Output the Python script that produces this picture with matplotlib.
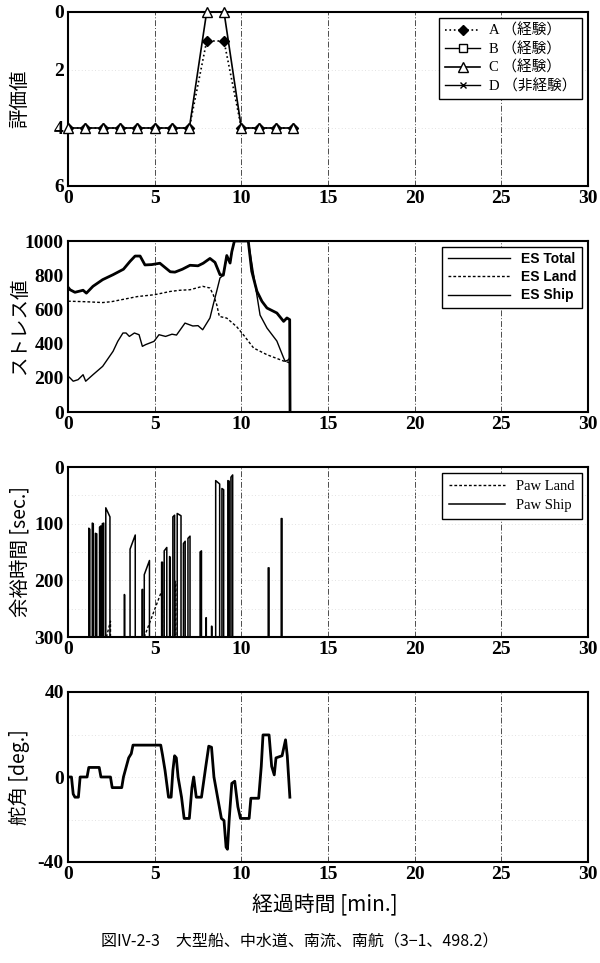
import matplotlib
matplotlib.use("Agg")
import matplotlib.pyplot as plt
import numpy as np

plt.rcParams['axes.unicode_minus'] = False

# ---------------- data ----------------
x_ticks = [0, 5, 10, 15, 20, 25, 30]

# Panel 1: evaluation values (inverted axis)
eval_t = [0, 1, 2, 3, 4, 5, 6, 7, 8, 9, 10, 11, 12, 13]
eval_A = [4, 4, 4, 4, 4, 4, 4, 4, 1, 1, 4, 4, 4, 4]
eval_B = []
eval_C = [4, 4, 4, 4, 4, 4, 4, 4, 0, 0, 4, 4, 4, 4]
eval_D = []
eval_labels = ["A （経験）", "B （経験）", "C （経験）", "D （非経験）"]

# Panel 2: stress values
total_t = [0, 0.12, 0.4, 0.87, 1.06, 1.44, 2.0, 2.6, 3.2, 3.58, 3.87, 4.16, 4.44, 4.83,
           5.3, 5.9, 6.17, 6.6, 7.04, 7.5, 7.8, 8.19, 8.48, 8.77, 8.96, 9.16, 9.35, 9.45,
           9.6, 10.4, 10.6, 10.9, 11.19, 11.48, 12.05, 12.44, 12.63, 12.79, 12.81]
total_v = [730, 715, 700, 712, 695, 735, 774, 803, 835, 881, 912, 912, 860, 862,
           870, 820, 818, 835, 858, 855, 870, 898, 875, 803, 800, 915, 871, 937,
           1000, 1000, 823, 706, 647, 608, 579, 530, 550, 540, 0]
land_t = [0, 1, 2, 2.5, 3, 4, 5, 5.9, 6.46, 7.04, 7.77, 8.19, 8.38, 8.58, 8.73, 9.16,
          9.74, 10.13, 10.71, 11.48, 12.44, 12.73, 12.8]
land_v = [648, 645, 640, 645, 655, 675, 686, 705, 712, 715, 735, 725, 686, 628, 559, 549,
          498, 450, 374, 335, 298, 290, 285]
ship_t = [0, 0.12, 0.3, 0.58, 0.87, 1.02, 1.44, 2.0, 2.6, 2.87, 3.17, 3.35, 3.54, 3.83,
          4.1, 4.29, 4.48, 4.96, 5.25, 5.63, 6.0, 6.26, 6.75, 7.2, 7.5, 7.77, 8.19, 8.38,
          8.58, 8.77, 8.96, 9.16, 9.35, 9.45, 9.6, 10.4, 10.8, 11.08, 11.48, 12.05, 12.44,
          12.53, 12.73, 12.8, 12.81]
ship_v = [210, 199, 180, 189, 218, 180, 218, 267, 355, 413, 462, 462, 442, 462,
          452, 384, 394, 413, 452, 442, 455, 450, 520, 503, 505, 481, 550, 628,
          707, 784, 800, 915, 871, 937, 1000, 1000, 745, 567, 491, 415, 316,
          296, 306, 320, 0]
es_labels = ["ES Total", "ES Land", "ES Ship"]

# Panel 3: margin time spikes (start, end, value at start, value at end)
pship_s = [1.20, 1.40, 1.58, 1.82, 1.98, 2.18, 3.25, 3.58, 4.28, 4.40, 5.40, 5.55, 5.86,
           6.05, 6.30, 6.66, 6.92, 7.62, 7.96, 8.28, 8.52, 8.88, 9.22, 9.40, 11.55, 12.30]
pship_e = [1.26, 1.46, 1.66, 1.90, 2.06, 2.42, 3.27, 3.88, 4.30, 4.70, 5.45, 5.70, 5.90,
           6.15, 6.52, 6.76, 7.04, 7.70, 7.98, 8.30, 8.75, 8.98, 9.30, 9.50, 11.60, 12.35]
pship_v1 = [108, 99, 117, 106, 100, 72, 225, 145, 216, 190, 168, 148, 158,
            88, 82, 135, 126, 150, 266, 281, 24, 38, 24, 18, 178, 91]
pship_v2 = [110, 100, 118, 104, 99, 88, 226, 120, 216, 165, 168, 142, 160,
            85, 86, 131, 122, 148, 266, 281, 30, 40, 25, 14, 178, 91]
pland_s = [2.22, 4.40, 6.18]
pland_e = [2.45, 5.45, 6.22]
pland_v1 = [300, 300, 202]
pland_v2 = [272, 215, 202]
paw_labels = ["Paw Land", "Paw Ship"]

# Panel 4: rudder angle
rud_t = [0.0, 0.2, 0.3, 0.4, 0.6, 0.7, 1.1, 1.2, 1.8, 1.9, 2.45, 2.55, 3.1, 3.2, 3.35, 3.5,
         3.65, 3.75, 5.35, 5.45, 5.6, 5.8, 5.95, 6.05, 6.15, 6.25, 6.35, 6.55, 6.7, 7.0,
         7.15, 7.25, 7.4, 7.7, 7.95, 8.12, 8.28, 8.42, 8.65, 8.85, 9.0, 9.12, 9.2, 9.3,
         9.45, 9.62, 9.8, 9.95, 10.45, 10.55, 11.0, 11.15, 11.25, 11.6, 11.75, 11.9,
         12.0, 12.35, 12.55, 12.65, 12.8]
rud_v = [0, 0, -8, -9.5, -9.5, 0, 0, 4.5, 4.5, 0, 0, -5, -5, 0, 4.5, 9,
         11, 15, 15, 10.5, 3, -9.5, -9.5, 3, 10, 9, 0, -9.5, -19.5, -19.5,
         -5, 0, -9.5, -9.5, 5, 14.5, 14, 0, -10.5, -19.5, -20.5, -33, -34, -20,
         -3, -2, -14, -19.5, -19.5, -10, -10, 5, 19.8, 19.8, 5, 1,
         9, 10, 17.5, 10, -9.5]

# ---------------- style ----------------
CJK = ['Noto Sans CJK JP', 'DejaVu Sans']
SERIF = ['Liberation Serif', 'DejaVu Serif']
SERIF_CJK = ['Liberation Serif', 'Noto Sans CJK JP', 'DejaVu Sans']

fig = plt.figure(figsize=(6, 9.63), dpi=100)
W, H = 600.0, 963.0
L, R = 68, 588


def make_ax(top, bottom):
    return fig.add_axes([L / W, 1 - bottom / H, (R - L) / W, (bottom - top) / H])


def fmt_ticks(ax):
    for lab in ax.get_xticklabels() + ax.get_yticklabels():
        lab.set_family(SERIF)
        lab.set_fontsize(14)
        lab.set_fontweight('bold')


def style(ax, ylim, yticks, ylabel, hgrid):
    ax.set_xlim(0, 30)
    ax.set_ylim(*ylim)
    ax.set_xticks(x_ticks)
    ax.set_yticks(yticks)
    ax.tick_params(length=0, pad=3)
    fmt_ticks(ax)
    for s in ax.spines.values():
        s.set_linewidth(1.5)
        s.set_color('black')
    for xv in x_ticks[1:-1]:
        ax.axvline(xv, color='0.3', lw=0.7, ls=(0, (6, 2, 1, 2)), zorder=0)
    for yv in hgrid:
        ax.axhline(yv, color='0.85', lw=0.6, ls=(0, (1, 3)), zorder=0)
    ax.set_ylabel(ylabel, family=CJK, fontsize=14)
    ax.yaxis.set_label_coords(-0.073, 0.5)


def spikes(s, e, v1, v2, base=300):
    xs, ys = [], []
    for a, b, p, q in zip(s, e, v1, v2):
        xs += [a, a, b, b, np.nan]
        ys += [base, p, q, base, np.nan]
    return xs, ys


# Panel 1
ax1 = make_ax(12, 186)
style(ax1, (6, 0), [0, 2, 4, 6], "評価値", [2, 4])
ax1.plot(eval_t, eval_A, ls=':', color='black', lw=1.2, marker='D', ms=5,
         mfc='black', label=eval_labels[0], zorder=2)
ax1.plot(eval_B, eval_B, ls='-', color='black', lw=1.0, marker='s', ms=6,
         mfc='white', label=eval_labels[1])
ax1.plot(eval_t, eval_C, ls='-', color='black', lw=1.2, marker='^', ms=7,
         mfc='white', label=eval_labels[2], zorder=3, clip_on=False)
ax1.plot(eval_D, eval_D, ls='-', color='black', lw=1.0, marker='x', ms=4,
         label=eval_labels[3])
leg1 = ax1.legend(loc='upper right', prop={'family': SERIF_CJK, 'size': 10.5},
                  fancybox=False, edgecolor='black', framealpha=1, handlelength=2.4,
                  borderaxespad=0.4, labelspacing=0.3, handletextpad=0.6)
leg1.get_frame().set_linewidth(1.0)

# Panel 2
ax2 = make_ax(241, 412)
style(ax2, (0, 1000), [0, 200, 400, 600, 800, 1000], "ストレス値", [])
ax2.plot(total_t, total_v, color='black', lw=2.0, label=es_labels[0])
ax2.plot(land_t, land_v, color='black', lw=1.0, ls=(0, (2, 1.5)), label=es_labels[1])
ax2.plot(ship_t, ship_v, color='black', lw=1.0, label=es_labels[2])
leg2 = ax2.legend(loc='upper right', prop={'family': 'Liberation Sans', 'size': 10,
                  'weight': 'bold'}, fancybox=False, edgecolor='black', framealpha=1,
                  handlelength=4.5, borderaxespad=0.4, labelspacing=0.3)
for h in leg2.get_lines():
    h.set_linewidth(1.0)
leg2.get_frame().set_linewidth(1.0)

# Panel 3
ax3 = make_ax(467, 637)
style(ax3, (300, 0), [0, 100, 200, 300], "余裕時間 [sec.]", [50, 100, 150, 200, 250])
lx, ly = spikes(pland_s, pland_e, pland_v1, pland_v2)
sx, sy = spikes(pship_s, pship_e, pship_v1, pship_v2)
ax3.plot(lx, ly, color='black', lw=1.0, ls=(0, (2, 1.5)), label=paw_labels[0])
ax3.plot(sx, sy, color='black', lw=1.1, label=paw_labels[1])
leg3 = ax3.legend(loc='upper right', prop={'family': SERIF, 'size': 10.5}, fancybox=False,
                  edgecolor='black', framealpha=1, handlelength=3.8, borderaxespad=0.4,
                  labelspacing=0.35, borderpad=0.5)
leg3.get_frame().set_linewidth(1.0)

# Panel 4
ax4 = make_ax(692, 862)
style(ax4, (-40, 40), [-40, 0, 40], "舵角 [deg.]", [-20, 0, 20])
ax4.plot(rud_t, rud_v, color='black', lw=2.0)

fig.text(325 / W, 1 - 905 / H, "経過時間 [min.]", family=CJK, fontsize=15,
         ha='center', va='center')
fig.text(300 / W, 1 - 942 / H, "図IV-2-3　大型船、中水道、南流、南航（3−1、498.2）",
         family=CJK, fontsize=11.5, ha='center', va='center')

fig.savefig("out.png", dpi=100)
